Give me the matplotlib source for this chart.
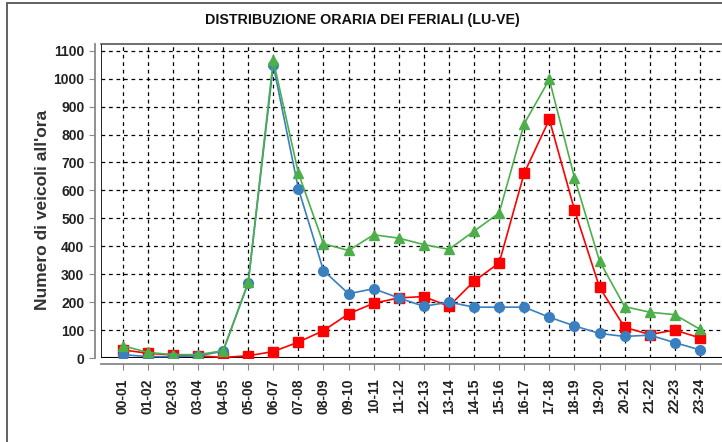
"""
Distribuzione oraria dei feriali (LU-VE) - recreated chart.
"""
import matplotlib
matplotlib.use("Agg")
import matplotlib.pyplot as plt
from matplotlib.patches import Rectangle

hours = ["00-01", "01-02", "02-03", "03-04", "04-05", "05-06", "06-07", "07-08",
         "08-09", "09-10", "10-11", "11-12", "12-13", "13-14", "14-15", "15-16",
         "16-17", "17-18", "18-19", "19-20", "20-21", "21-22", "22-23", "23-24"]

blue_vals = [12, 5, 5, 8, 24, 268, 1048, 606, 313, 230, 248, 215,
             185, 200, 182, 182, 182, 146, 115, 88, 77, 82, 55, 29]
red_vals = [29, 17, 11, 8, 2, 8, 23, 57, 98, 158, 196, 215,
            220, 185, 275, 340, 662, 854, 531, 253, 110, 84, 100, 72]
green_vals = [44, 20, 12, 12, 26, 271, 1066, 662, 409, 385, 441, 429,
              406, 389, 454, 519, 839, 997, 646, 347, 184, 164, 155, 103]

y_ticks = list(range(0, 1101, 100))


def main():
    plt.rcParams["font.family"] = ["Liberation Sans", "DejaVu Sans"]
    plt.rcParams["font.weight"] = "bold"

    fig = plt.figure(figsize=(7.22, 4.42), dpi=100)
    ax = fig.add_axes([101 / 722, 1 - 358 / 442, 625 / 722, 314 / 442])

    x = list(range(len(hours)))
    ax.plot(x, red_vals, color="#ff0000", marker="s", markersize=7, lw=1.2, zorder=3)
    ax.plot(x, blue_vals, color="#3a7fc0", marker="o", markersize=7, lw=1.2, zorder=4)
    ax.plot(x, green_vals, color="#4caf4a", marker="^", markersize=7.5, lw=1.2, zorder=5)

    ax.set_xlim(-0.865, 24.04)
    ax.set_ylim(0, 1124)
    ax.set_xticks(x)
    ax.set_xticklabels(hours, fontsize=8.5, fontweight="bold")
    ax.set_yticks(y_ticks)
    ax.set_yticklabels([str(v) for v in y_ticks], fontsize=8.5, fontweight="bold")

    ax.grid(True, color="black", linestyle=(0, (3, 3)), lw=0.9)
    ax.set_axisbelow(True)
    ax.axhline(0, color="black", lw=1.5, zorder=2)
    ax.axvline(-0.865, color="black", lw=1.2, zorder=2)

    for side in ["left", "bottom"]:
        ax.spines[side].set_position(("outward", 4.5))
        ax.spines[side].set_color("#888888")
        ax.spines[side].set_linewidth(1.3)
    ax.spines["top"].set_color("#555555")
    ax.spines["top"].set_linewidth(1.2)
    ax.spines["right"].set_visible(False)
    ax.tick_params(axis="both", colors="#888888", labelcolor="#222222", length=4)
    ax.tick_params(axis="x", labelrotation=90, pad=6)

    ax.set_ylabel("Numero di veicoli all'ora", fontsize=12.5, fontweight="bold",
                  color="#333333")
    ax.yaxis.set_label_coords(-0.082, 0.47)
    fig.text(362 / 722, 1 - 20 / 442, "DISTRIBUZIONE ORARIA DEI FERIALI (LU-VE)",
             ha="center", va="center", fontsize=10.3, fontweight="bold", color="#111111")

    fig.patches.append(Rectangle((7 / 722, -0.05), 1.2, 1 - 2.5 / 442 + 0.05,
                                 transform=fig.transFigure, fill=False,
                                 edgecolor="#555555", lw=1.3))

    fig.savefig("out.png", dpi=100)


if __name__ == "__main__":
    main()
